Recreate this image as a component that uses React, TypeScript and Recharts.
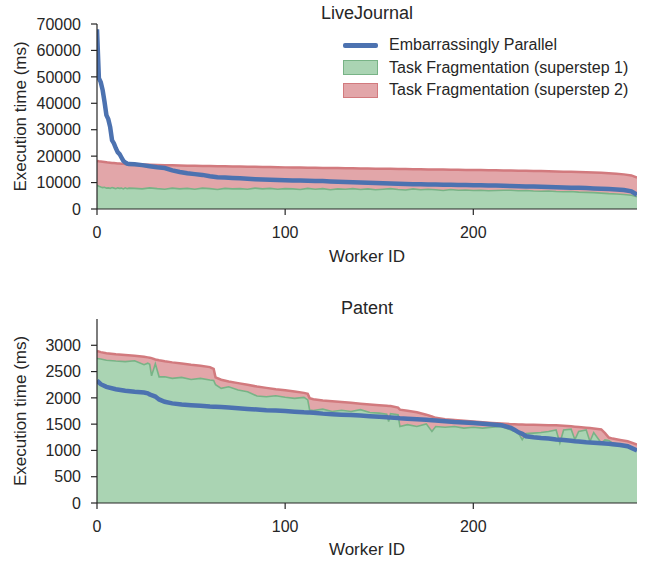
import React from 'react';
import { Area, ComposedChart, Legend, Line, XAxis, YAxis } from 'recharts';

// LiveJournal: worker ids (sorted by embarrassingly parallel runtime)
const ljWorkers = [
  0, 1, 2, 3, 4, 5, 6, 7, 8, 9, 10, 11, 12, 13, 14, 15, 16, 17,
  20, 24, 28, 32, 36, 40, 44, 48, 52, 56,
  60, 64, 68, 72, 76, 80, 84, 88, 92, 96,
  100, 104, 108, 112, 116, 120, 124, 128, 132, 136,
  140, 144, 148, 152, 156, 160, 164, 168, 172, 176,
  180, 184, 188, 192, 196, 200, 204, 208, 212, 216,
  220, 224, 228, 232, 236, 240, 244, 248, 252, 256,
  260, 264, 268, 272, 276, 280, 284, 287,
];
const ljParallel = [
  68000, 49500, 48000, 45000, 40500, 35500, 34000, 31000, 26000, 24800, 23000, 21500, 20800, 19500, 18200, 17600, 17200, 17000,
  16900, 16600, 16200, 15800, 15500, 14600, 14000, 13500, 13200, 12900,
  12400, 12000, 11900, 11750, 11600, 11450, 11300, 11150, 11050, 10950,
  10850, 10800, 10750, 10700, 10620, 10550, 10450, 10350, 10250, 10150,
  10050, 9950, 9850, 9750, 9650, 9550, 9480, 9400, 9350, 9300,
  9250, 9200, 9150, 9100, 9050, 9000, 8950, 8900, 8850, 8780,
  8700, 8620, 8550, 8480, 8400, 8320, 8240, 8160, 8080, 8000,
  7900, 7800, 7700, 7550, 7400, 7200, 6700, 5400,
];
const ljStep1 = [
  9000, 8600, 8300, 8100, 8200, 7900, 8000, 7800, 8100, 7900, 7700, 8000, 7800, 7900, 7600, 8000, 7700, 7900,
  7800, 7600, 8000, 7700, 7500, 7900, 7600, 7800, 7500, 7900,
  7700, 7400, 7800, 7600, 7700, 7500, 7900, 7600, 7800, 7500,
  7700, 7600, 7400, 7800, 7500, 7700, 7300, 7600, 7500, 7700,
  7400, 7600, 7300, 7500, 7700, 7400, 7200, 7600, 7300, 7500,
  7300, 7000, 7400, 7100, 7200, 7000, 7100, 6900, 7000, 7100,
  7100, 6900, 7000, 6800, 6700, 6800, 6600, 6500, 6600, 6400,
  6300, 6200, 6000, 5800, 5700, 5500, 5200, 4600,
];
// end of superstep 2 (top of red band)
const ljStep2 = [
  18200, 18050, 17950, 17850, 17750, 17650, 17550, 17480, 17420, 17360, 17300, 17250, 17200, 17150, 17100, 17050, 17000, 16950,
  16900, 16800, 16720, 16650, 16590, 16530, 16470, 16410, 16350, 16300,
  16250, 16200, 16150, 16100, 16050, 16000, 15950, 15900, 15850, 15800,
  15750, 15710, 15670, 15630, 15590, 15550, 15510, 15470, 15430, 15390,
  15350, 15310, 15270, 15230, 15190, 15150, 15110, 15070, 15030, 14990,
  14950, 14910, 14870, 14830, 14790, 14750, 14710, 14670, 14630, 14590,
  14550, 14500, 14450, 14400, 14340, 14280, 14210, 14140, 14060, 13980,
  13890, 13790, 13670, 13520, 13330, 13100, 12700, 11900,
];

// Patent
const patWorkers = [
  0, 2, 5, 10, 15, 20, 25, 27, 28, 29, 31, 33, 36, 40, 45, 50, 55, 60, 62, 63,
  66, 70, 75, 80, 85, 90, 95, 100, 105, 110, 112, 113, 115, 120, 125, 130, 135, 140, 145, 150,
  154, 155, 156, 160, 161, 165, 170, 175, 178, 180, 185, 190, 195, 200, 205, 210, 215, 220, 222, 224,
  226, 228, 232, 236, 240, 244, 246, 248, 252, 254, 256, 260, 262, 264, 268, 270, 272, 274, 278, 282, 287,
];
const patParallel = [
  2330, 2260, 2210, 2165, 2135, 2115, 2100, 2085, 2065, 2050, 2025, 1970, 1925, 1895, 1875, 1860, 1848, 1835, 1832, 1830,
  1825, 1815, 1803, 1790, 1778, 1765, 1758, 1750, 1738, 1725, 1722, 1720, 1715, 1700, 1690, 1680, 1672, 1665, 1652, 1640,
  1630, 1627, 1625, 1615, 1612, 1604, 1595, 1582, 1575, 1570, 1555, 1540, 1530, 1520, 1508, 1495, 1478, 1430, 1390, 1345,
  1315, 1270, 1250, 1235, 1225, 1210, 1205, 1198, 1185, 1175, 1170, 1155, 1150, 1145, 1135, 1130, 1125, 1118, 1105, 1080, 1000,
];
const patStep1 = [
  2750, 2740, 2715, 2700, 2690, 2705, 2630, 2660, 2640, 2420, 2650, 2400, 2400, 2370, 2390, 2350, 2370, 2340, 2330, 2250,
  2180, 2210, 2150, 2115, 2035, 2020, 2040, 2010, 1990, 2010, 1960, 1770, 1760, 1785, 1740, 1765, 1740, 1775, 1720, 1710,
  1690, 1550, 1700, 1680, 1455, 1490, 1455, 1505, 1360, 1455, 1440, 1455, 1425, 1440, 1425, 1440, 1455, 1390, 1360, 1330,
  1205, 1320, 1330, 1340, 1360, 1390, 1140, 1390, 1405, 1205, 1360, 1390, 1170, 1340, 1140, 1200, 1190, 1140, 1110, 1090, 1015,
];
const patStep2 = [
  2890, 2870, 2850, 2830, 2815, 2800, 2780, 2770, 2765, 2755, 2730, 2715, 2695, 2675, 2655, 2630, 2610, 2585, 2550, 2390,
  2345, 2310, 2280, 2250, 2215, 2190, 2165, 2145, 2120, 2095, 2075, 1995, 1975, 1950, 1935, 1920, 1905, 1890, 1875, 1860,
  1850, 1847, 1843, 1815, 1775, 1755, 1725, 1680, 1645, 1620, 1595, 1580, 1565, 1550, 1535, 1522, 1510, 1500, 1498, 1495,
  1492, 1490, 1488, 1485, 1480, 1477, 1475, 1470, 1458, 1452, 1446, 1432, 1425, 1418, 1400, 1330, 1245, 1225, 1200, 1175, 1110,
];

const ljTicksY = [0, 10000, 20000, 30000, 40000, 50000, 60000, 70000];
const patTicksY = [0, 500, 1000, 1500, 2000, 2500, 3000];
const workerTicks = [0, 100, 200];

const BLUE = '#4c72b0';
const GREEN_FILL = '#aad4b3';
const GREEN_LINE = '#78b386';
const RED_FILL = '#e2a6a9';
const RED_LINE = '#d27a7e';
const INK = '#262626';

const legendItems = [
  { label: 'Embarrassingly Parallel', kind: 'line', color: BLUE },
  { label: 'Task Fragmentation (superstep 1)', kind: 'patch', color: GREEN_FILL, edge: GREEN_LINE },
  { label: 'Task Fragmentation (superstep 2)', kind: 'patch', color: RED_FILL, edge: RED_LINE },
];

function LegendBox() {
  return (
    <div style={{ fontSize: 16, color: INK, lineHeight: '22px' }}>
      {legendItems.map((it) => (
        <div key={it.label} style={{ display: 'flex', alignItems: 'center', height: 22.5 }}>
          {it.kind === 'line' ? (
            <span style={{ display: 'inline-block', width: 35, height: 5, background: it.color, borderRadius: 2 }} />
          ) : (
            <span
              style={{
                display: 'inline-block',
                width: 33,
                height: 13,
                background: it.color,
                border: `1px solid ${it.edge}`,
              }}
            />
          )}
          <span style={{ marginLeft: 11 }}>{it.label}</span>
        </div>
      ))}
    </div>
  );
}

function buildRows(workers: number[], par: number[], s1: number[], s2: number[]) {
  return workers.map((w, i) => ({ worker: w, parallel: par[i], step1: s1[i], step2: s2[i] }));
}

function Panel({
  title,
  rows,
  yMax,
  yTicks,
  height,
  xAxisHeight,
  showLegend,
}: {
  title: string;
  rows: Array<Record<string, number>>;
  yMax: number;
  yTicks: number[];
  height: number;
  xAxisHeight: number;
  showLegend?: boolean;
}) {
  return (
    <div style={{ position: 'relative', width: 649, height }}>
      <div
        style={{
          position: 'absolute',
          left: 97,
          width: 540,
          top: 3,
          textAlign: 'center',
          fontSize: 18,
          lineHeight: '20px',
          color: INK,
        }}
      >
        {title}
      </div>
      <ComposedChart width={649} height={height} data={rows} margin={{ top: 24, right: 12, bottom: 0, left: 0 }}>
        <XAxis
          dataKey="worker"
          type="number"
          domain={[0, 287]}
          ticks={workerTicks}
          allowDataOverflow
          height={xAxisHeight}
          tickSize={6}
          tickMargin={12}
          tick={{ fontSize: 16, fill: INK }}
          axisLine={{ stroke: INK, strokeWidth: 1.2 }}
          tickLine={{ stroke: INK, strokeWidth: 1.2 }}
          label={{ value: 'Worker ID', position: 'insideBottom', offset: 8, fontSize: 17, fill: INK }}
        />
        <YAxis
          type="number"
          domain={[0, yMax]}
          ticks={yTicks}
          allowDataOverflow
          width={97}
          tickSize={6}
          tickMargin={10}
          tick={{ fontSize: 16, fill: INK }}
          axisLine={{ stroke: INK, strokeWidth: 1.2 }}
          tickLine={{ stroke: INK, strokeWidth: 1.2 }}
          label={{
            value: 'Execution time (ms)',
            angle: -90,
            position: 'insideLeft',
            offset: 20,
            fontSize: 17,
            fill: INK,
            style: { textAnchor: 'middle' },
          }}
        />
        {showLegend && (
          <Legend
            layout="horizontal"
            verticalAlign="middle"
            align="center"
            wrapperStyle={{ top: 34, left: 343, width: 300, height: 70 }}
            content={() => <LegendBox />}
          />
        )}
        <Area
          type="linear"
          dataKey="step2"
          stroke={RED_LINE}
          strokeWidth={2.5}
          fill={RED_FILL}
          fillOpacity={1}
          isAnimationActive={false}
          dot={false}
          activeDot={false}
        />
        <Area
          type="linear"
          dataKey="step1"
          stroke={GREEN_LINE}
          strokeWidth={1.6}
          fill={GREEN_FILL}
          fillOpacity={1}
          isAnimationActive={false}
          dot={false}
          activeDot={false}
        />
        <Line
          type="linear"
          dataKey="parallel"
          stroke={BLUE}
          strokeWidth={4.5}
          dot={false}
          activeDot={false}
          isAnimationActive={false}
        />
      </ComposedChart>
    </div>
  );
}

export default function App() {
  const ljRows = buildRows(ljWorkers, ljParallel, ljStep1, ljStep2);
  const patRows = buildRows(patWorkers, patParallel, patStep1, patStep2);
  return (
    <div
      style={{
        position: 'absolute',
        left: 0,
        top: 0,
        width: 649,
        height: 563,
        background: '#fff',
        fontFamily: '"Liberation Sans", Arial, sans-serif',
      }}
    >
      <Panel title="LiveJournal" rows={ljRows} yMax={70000} yTicks={ljTicksY} height={270} xAxisHeight={61} showLegend />
      <div style={{ position: 'absolute', left: 0, top: 295 }}>
        <Panel title="Patent" rows={patRows} yMax={3500} yTicks={patTicksY} height={268} xAxisHeight={60} />
      </div>
    </div>
  );
}
